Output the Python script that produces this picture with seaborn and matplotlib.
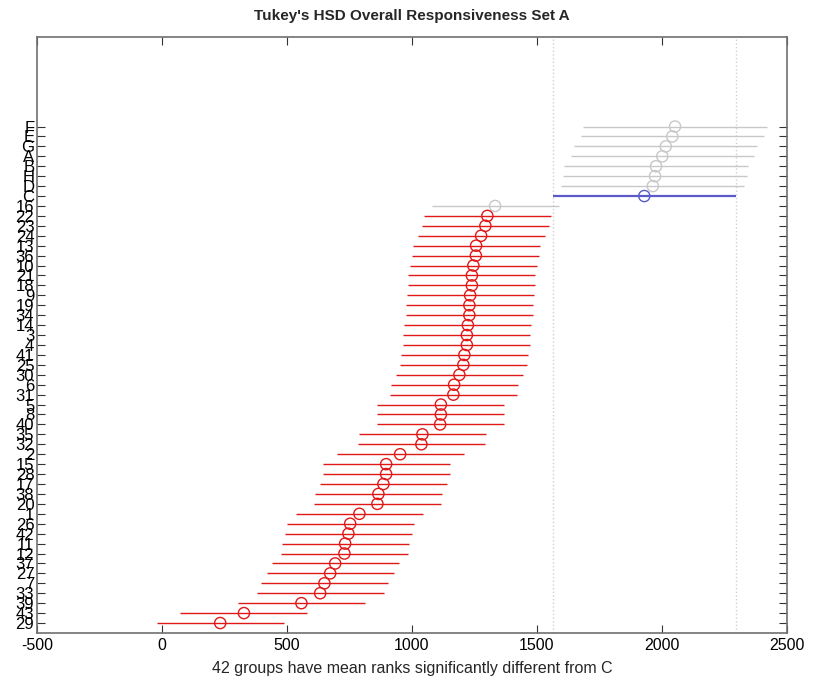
import matplotlib
matplotlib.use("Agg")
import matplotlib.pyplot as plt
import seaborn as sns
import pandas as pd
import numpy as np

# ---- data (top of the chart first) ----
groups = ["F", "E", "G", "A", "B", "H", "D", "C",
          "16", "22", "23", "24", "13", "36", "10", "21", "18", "9", "19", "34",
          "14", "3", "4", "41", "25", "30", "6", "31", "5", "8", "40", "35", "32",
          "2", "15", "28", "17", "38", "20", "1", "26", "42", "11", "12", "37",
          "27", "7", "33", "39", "43", "29"]
mean_ranks = [2053, 2042, 2016, 2002, 1977, 1973, 1964, 1930,
              1333, 1302, 1294, 1277, 1257, 1256, 1246, 1240, 1240, 1233, 1230, 1230,
              1224, 1220, 1220, 1210, 1206, 1190, 1169, 1166, 1116, 1116, 1113, 1042, 1038,
              953, 897, 897, 886, 866, 862, 790, 753, 746, 733, 730, 693,
              673, 650, 633, 558, 328, 233]
half_widths = [367] * 8 + [254] * 43
status = (["ns"] * 7 + ["ref"] + ["ns"] +
          ["sig"] * 42)

title = "Tukey's HSD Overall Responsiveness Set A"
xlabel = "42 groups have mean ranks significantly different from C"
xticks = [-500, 0, 500, 1000, 1500, 2000, 2500]

df = pd.DataFrame({"group": groups, "mean": mean_ranks, "hw": half_widths, "status": status})
n = len(df)
df["pos"] = np.arange(n, 0, -1)
df["lo"] = df["mean"] - df["hw"]
df["hi"] = df["mean"] + df["hw"]

colors = {"ns": "#c8c8c8", "ref": "#5a5ac8", "sig": "#e01818"}
lws = {"ns": 1.0, "ref": 1.6, "sig": 1.0}

sns.set_style("ticks")
plt.rcParams["font.family"] = ["Liberation Sans", "DejaVu Sans"]

fig = plt.figure(figsize=(8.14, 6.88), dpi=100)
ax = fig.add_axes([0.0455, 0.080, 0.921, 0.866])

ref = df[df["status"] == "ref"].iloc[0]
for xv in (ref["lo"], ref["hi"]):
    ax.axvline(xv, color="#d0d0d0", linestyle=":", linewidth=1.0, zorder=1)

for st, sub in df.groupby("status"):
    ax.hlines(sub["pos"], sub["lo"], sub["hi"], color=colors[st], linewidth=lws[st], zorder=2)
    sns.scatterplot(data=sub, x="mean", y="pos", ax=ax, marker="o", s=65,
                    facecolor="none", edgecolor=colors[st], linewidth=1.0, zorder=3,
                    legend=False)

ax.set_xlim(-500, 2500)
ax.set_ylim(0, 60)
ax.set_xticks(xticks)
ax.set_xticklabels([str(v) for v in xticks], fontsize=11.5)
ax.set_yticks(df["pos"])
ax.set_yticklabels(df["group"], fontsize=12)
ax.set_xlabel(xlabel, fontsize=11.5, labelpad=6)
ax.set_ylabel("")
ax.set_title(title, fontsize=11, fontweight="bold", pad=12)

ax.tick_params(axis="both", direction="in", length=6, width=0.8, color="#333333",
               top=True, right=True, labelcolor="black")
ax.tick_params(axis="y", pad=2)
for sp in ax.spines.values():
    sp.set_visible(True)
    sp.set_color("#707070")
    sp.set_linewidth(1.2)

fig.savefig("out.png", dpi=100)
